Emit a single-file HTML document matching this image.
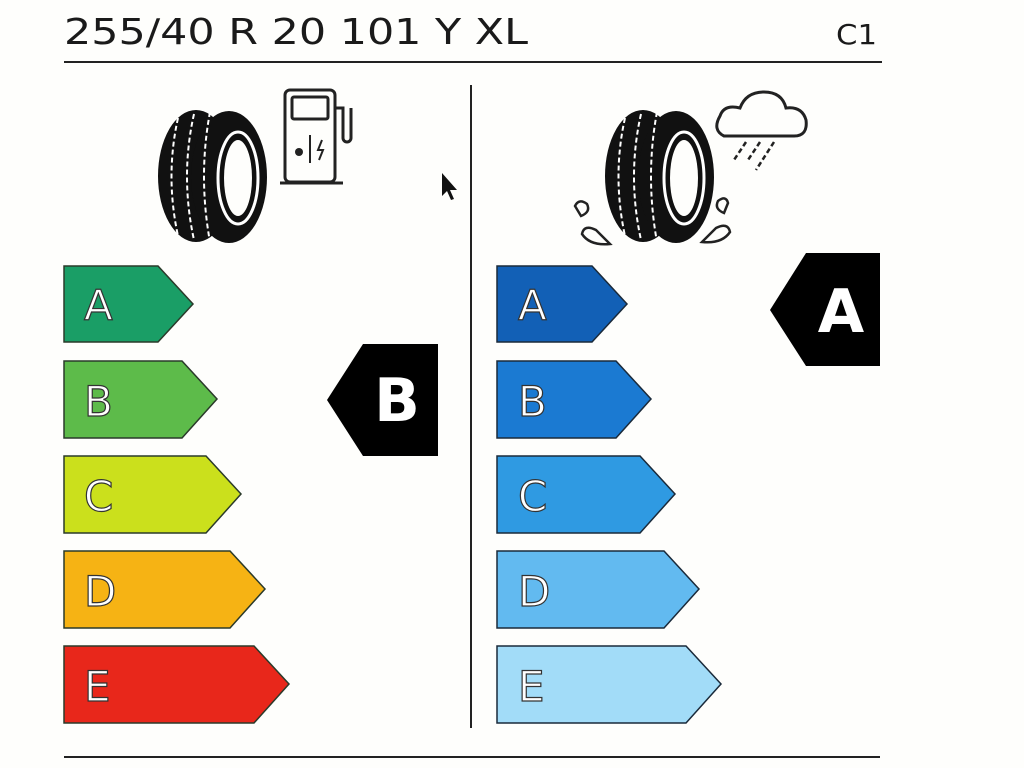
<!DOCTYPE html>
<html><head><style>
html,body{margin:0;padding:0;background:#fefefc;}
svg{display:block}
text{font-family:"DejaVu Sans","Liberation Sans",sans-serif;}
</style></head><body>
<svg width="1024" height="768" viewBox="0 0 1024 768" xmlns="http://www.w3.org/2000/svg">
<rect width="1024" height="768" fill="#fefefc"/>
<text x="64" y="44" font-size="36" fill="#1a1a1a" textLength="464" lengthAdjust="spacingAndGlyphs">255/40 R 20 101 Y XL</text>
<text x="836" y="44" font-size="28" fill="#1a1a1a" textLength="41" lengthAdjust="spacingAndGlyphs">C1</text>
<rect x="64" y="61" width="818" height="2" fill="#222"/>
<rect x="470" y="85" width="2" height="643" fill="#222"/>
<rect x="64" y="756" width="816" height="2" fill="#222"/>

<g stroke="#2a3a2a" stroke-width="1.5">
<polygon points="64,266 158,266 193,304 158,342 64,342" fill="#1a9e66"/>
<polygon points="64,361 182,361 217,399 182,438 64,438" fill="#5dbb4a"/>
<polygon points="64,456 206,456 241,494 206,533 64,533" fill="#cbe01c"/>
<polygon points="64,551 230,551 265,589 230,628 64,628" fill="#f6b314"/>
<polygon points="64,646 254,646 289,684 254,723 64,723" fill="#e8271b"/>
</g>
<g font-size="42" fill="#fff" stroke="#333" stroke-width="1.2">
<text x="84" y="320">A</text>
<text x="84" y="416">B</text>
<text x="84" y="511">C</text>
<text x="84" y="606">D</text>
<text x="84" y="701">E</text>
</g>
<g stroke="#1a2a3a" stroke-width="1.5">
<polygon points="497,266 592,266 627,304 592,342 497,342" fill="#1260b6"/>
<polygon points="497,361 616,361 651,399 616,438 497,438" fill="#1b7ad2"/>
<polygon points="497,456 640,456 675,494 640,533 497,533" fill="#2f9ae2"/>
<polygon points="497,551 664,551 699,589 664,628 497,628" fill="#62baf0"/>
<polygon points="497,646 686,646 721,684 686,723 497,723" fill="#a2dcf8"/>
</g>
<g font-size="42" fill="#fff" stroke="#333" stroke-width="1.2">
<text x="518" y="320">A</text>
<text x="518" y="416">B</text>
<text x="518" y="511">C</text>
<text x="518" y="606">D</text>
<text x="518" y="701">E</text>
</g>

<polygon points="363,344 438,344 438,456 363,456 327,400" fill="#000"/>
<text x="397" y="421" font-size="60" font-weight="bold" fill="#fff" text-anchor="middle">B</text>
<polygon points="806,253 880,253 880,366 806,366 770,310" fill="#000"/>
<text x="841" y="332" font-size="60" font-weight="bold" fill="#fff" text-anchor="middle">A</text>

<g>
<ellipse cx="196" cy="176" rx="38" ry="66" fill="#111"/>
<ellipse cx="229" cy="177" rx="38" ry="66" fill="#111"/>
<ellipse cx="238" cy="178" rx="20" ry="46" fill="none" stroke="#fff" stroke-width="3"/>
<ellipse cx="238" cy="178" rx="14" ry="38" fill="#fefefc"/>
<path d="M178 118 Q165 176 178 236 M194 114 Q180 176 194 240 M210 112 Q198 176 210 242" stroke="#fff" stroke-width="2" fill="none" stroke-dasharray="5 3"/>
</g>
<g fill="none" stroke="#222" stroke-width="3">
<rect x="285" y="90" width="50" height="92" rx="5"/>
<rect x="292" y="97" width="36" height="22" rx="2"/>
<path d="M335 108 h8 v30 a4 4 0 0 0 8 0 v-30" />
<line x1="280" y1="183" x2="343" y2="183"/>
<line x1="310" y1="135" x2="310" y2="163" stroke-width="2"/>
</g>
<circle cx="299" cy="152" r="4" fill="#222"/>
<path d="M322 140 l-4 10 h5 l-4 10" stroke="#222" stroke-width="2" fill="none"/>

<g>
<ellipse cx="643" cy="176" rx="38" ry="66" fill="#111"/>
<ellipse cx="676" cy="177" rx="38" ry="66" fill="#111"/>
<ellipse cx="684" cy="178" rx="20" ry="46" fill="none" stroke="#fff" stroke-width="3"/>
<ellipse cx="684" cy="178" rx="14" ry="38" fill="#fefefc"/>
<path d="M625 118 Q612 176 625 236 M641 114 Q627 176 641 240 M657 112 Q645 176 657 242" stroke="#fff" stroke-width="2" fill="none" stroke-dasharray="5 3"/>
</g>
<path d="M724 136 Q712 130 720 116 Q724 104 740 108 Q746 92 764 92 Q782 92 786 108 Q802 106 806 120 Q808 136 794 136 Z" fill="none" stroke="#222" stroke-width="3"/>
<g stroke="#222" stroke-width="2.5" stroke-dasharray="5 3">
<line x1="746" y1="142" x2="734" y2="160"/>
<line x1="760" y1="142" x2="748" y2="160"/>
<line x1="774" y1="142" x2="756" y2="170"/>
</g>
<g fill="none" stroke="#222" stroke-width="2.5">
<path d="M575 206 q4 -8 12 -2 q4 8 -6 12 z"/>
<path d="M582 234 q2 -10 14 -4 l14 14 q-20 2 -28 -10 z"/>
<path d="M728 203 q-2 -8 -10 -2 q-4 8 6 12 z"/>
<path d="M730 232 q-2 -10 -14 -4 l-14 14 q20 2 28 -10 z"/>
</g>
<path d="M442 173 L442 196 L447 191 L451 200 L454 199 L450 190 L457 190 Z" fill="#111"/>
</svg>
</body></html>
